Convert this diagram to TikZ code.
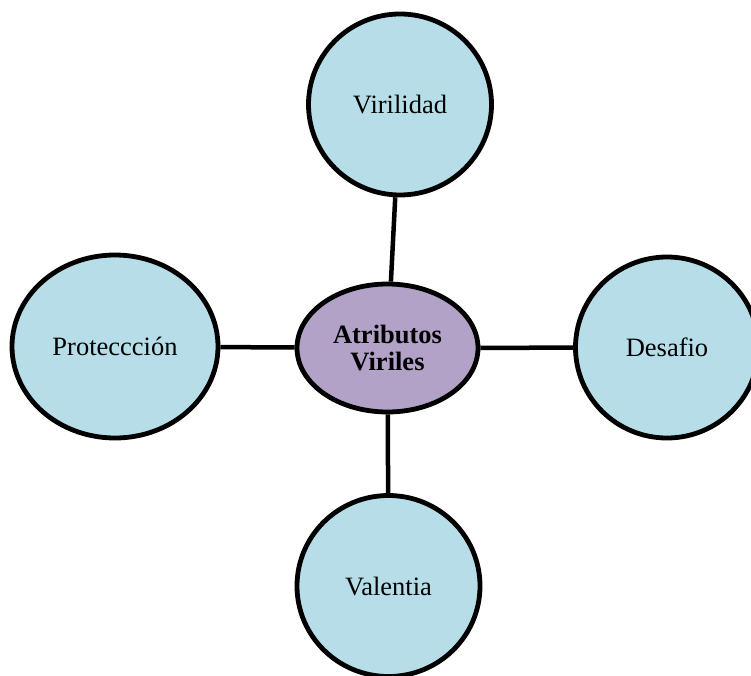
\documentclass[tikz,border=0pt]{standalone}
\usepackage{fontspec}
\setmainfont{Liberation Serif}
\usetikzlibrary{shapes.geometric}
\definecolor{lightblue}{HTML}{B7DEE8}
\definecolor{lightpurple}{HTML}{B2A2C7}
\tikzset{
  bubble/.style={ellipse, draw=black, line width=4.8pt, fill=lightblue, inner sep=0pt,
    font=\fontsize{26.5}{28}\selectfont, align=center},
  hub/.style={bubble, fill=lightpurple, font=\fontsize{26.5}{27}\selectfont\bfseries},
  link/.style={line width=4.5pt}
}
\begin{document}
\begin{tikzpicture}[x=1pt,y=-1pt]
\useasboundingbox (0,0) rectangle (751,676);
\clip (0,0) rectangle (751,676);
\node[hub, minimum width=181pt, minimum height=128pt] (c) at (387.5,348) {Atributos\\Viriles};
\node[bubble, minimum width=183pt, minimum height=181pt] (vir) at (400,104.5) {Virilidad};
\node[bubble, minimum width=206pt, minimum height=183pt] (pro) at (115,346.5) {Proteccción};
\node[bubble, minimum width=183pt, minimum height=181pt] (des) at (667,347.5) {Desafio};
\node[bubble, minimum width=183pt, minimum height=181pt] (val) at (388.5,586) {Valentia};
\draw[link] (vir) -- (c);
\draw[link] (pro) -- (c);
\draw[link] (c) -- (des);
\draw[link] (c) -- (val);
\end{tikzpicture}
\end{document}
